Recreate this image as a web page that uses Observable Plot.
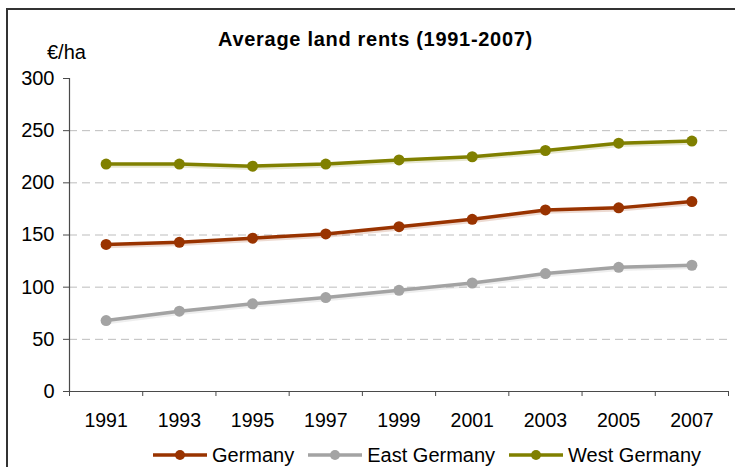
<!DOCTYPE html>
<html>
<head>
<meta charset="utf-8">
<script src="https://cdn.jsdelivr.net/npm/d3@7"></script>
<script src="https://cdn.jsdelivr.net/npm/@observablehq/plot@0.6"></script>
<style>
  html, body { margin: 0; padding: 0; background: #fff; overflow: hidden; }
  body { width: 735px; height: 467px; position: relative; font-family: "Liberation Sans", Arial, sans-serif; color: #000; }
  #frame { position: absolute; left: 6px; top: 8px; width: 760px; height: 480px; border: 2px solid #333; box-sizing: border-box; }
  #chart { position: absolute; left: 0; top: 0; }
  #title { position: absolute; left: 8px; top: 29px; width: 735px; text-align: center; font-weight: bold; font-size: 20px; line-height: 20px; letter-spacing: 0.7px; }
  #unit { position: absolute; left: 47px; top: 42px; font-size: 20px; line-height: 20px; }
  #legend { position: absolute; left: 153px; top: 443px; height: 24px; display: flex; align-items: center; gap: 14px; font-size: 20px; line-height: 24px; }
  .item { display: flex; align-items: center; }
  .item svg { margin-right: 5px; }
</style>
</head>
<body>
<div id="frame"></div>
<div id="chart"></div>
<div id="title">Average land rents (1991-2007)</div>
<div id="unit">€/ha</div>
<div id="legend"></div>
<script>
// ---- data ----
const years = [1991, 1993, 1995, 1997, 1999, 2001, 2003, 2005, 2007];
const germany = [141, 143, 147, 151, 158, 165, 174, 176, 182];
const eastGermany = [68, 77, 84, 90, 97, 104, 113, 119, 121];
const westGermany = [218, 218, 216, 218, 222, 225, 231, 238, 240];
const seriesNames = ["Germany", "East Germany", "West Germany"];
const seriesColors = ["#993300", "#a3a3a3", "#808000"];
const yTicks = [0, 50, 100, 150, 200, 250, 300];
const gridValues = [50, 100, 150, 200, 250];
const xDomain = [1990, 2008];
const bandEdges = d3.range(xDomain[0], xDomain[1] + 1, 2);

const seriesValues = [germany, eastGermany, westGermany];
const data = seriesNames.flatMap((s, i) => years.map((yr, j) => ({series: s, year: yr, value: seriesValues[i][j]})));

const chart = Plot.plot({
  width: 735,
  height: 467,
  marginLeft: 69,
  marginRight: 7,
  marginTop: 78,
  marginBottom: 76,
  style: {fontFamily: "'Liberation Sans', Arial, sans-serif", fontSize: "19px", background: "transparent", color: "#000"},
  x: {type: "linear", domain: xDomain},
  y: {domain: [0, 300]},
  color: {domain: seriesNames, range: seriesColors},
  marks: [
    Plot.ruleY(gridValues, {stroke: "#bdbdbd", strokeWidth: 1, strokeDasharray: "8,5"}),
    Plot.axisY({ticks: yTicks, tickSize: 6, tickFormat: () => "", stroke: "#4a4a4a", label: null}),
    Plot.axisY({ticks: yTicks, tickSize: 0, tickPadding: 15, fontSize: 20, label: null}),
    Plot.axisX({ticks: bandEdges, tickSize: 5, tickFormat: () => "", stroke: "#4a4a4a", label: null}),
    Plot.axisX({ticks: years, tickSize: 0, tickPadding: 22, tickFormat: d => String(d), fontSize: 19.5, label: null}),
    Plot.ruleX([xDomain[0]], {stroke: "#4a4a4a", strokeWidth: 1.2}),
    Plot.ruleY([0], {stroke: "#4a4a4a", strokeWidth: 1.2}),
    Plot.line(data, {x: "year", y: "value", z: "series", stroke: "series", strokeWidth: 3.5, dx: 1, dy: 2, strokeOpacity: 0.18}),
    Plot.line(data, {x: "year", y: "value", z: "series", stroke: "series", strokeWidth: 3.5}),
    Plot.dot(data, {x: "year", y: "value", fill: "series", r: 5.5})
  ]
});
document.getElementById("chart").appendChild(chart);

// legend
const legend = d3.select("#legend");
seriesNames.forEach((name, i) => {
  const item = legend.append("div").attr("class", "item");
  const svg = item.append("svg").attr("width", 54).attr("height", 14);
  svg.append("line").attr("x1", 0).attr("x2", 54).attr("y1", 7).attr("y2", 7)
    .attr("stroke", seriesColors[i]).attr("stroke-width", 3.5);
  svg.append("circle").attr("cx", 27).attr("cy", 7).attr("r", 5).attr("fill", seriesColors[i]);
  item.append("span").text(name);
});
</script>
</body>
</html>
